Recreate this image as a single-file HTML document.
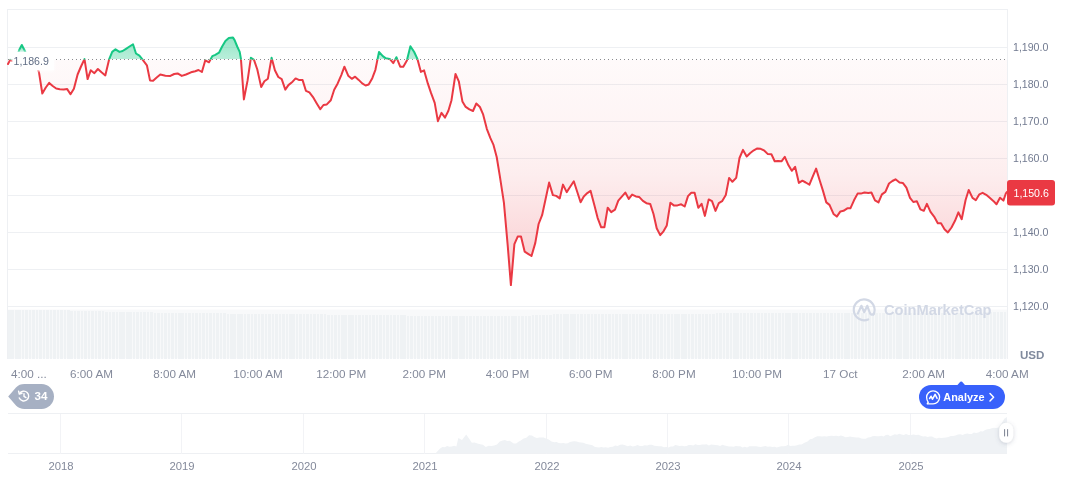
<!DOCTYPE html>
<html><head><meta charset="utf-8"><title>Chart</title>
<style>
html,body{margin:0;padding:0;background:#fff;}
body{width:1072px;height:477px;overflow:hidden;position:relative;font-family:"Liberation Sans",sans-serif;}
svg{position:absolute;left:0;top:0;}
svg text{font-family:"Liberation Sans",sans-serif;}
.g line{stroke:#eef0f3;stroke-width:1;shape-rendering:crispEdges;}
.nv line{stroke:#f2f3f6;}
.yl text{font-size:10.6px;fill:#727b91;}
.xl text{font-size:11.7px;fill:#848a9b;text-anchor:middle;}
.yr text{font-size:11.3px;fill:#848a9b;text-anchor:middle;}
</style></head><body>
<svg width="1072" height="477" viewBox="0 0 1072 477">
<defs>
<linearGradient id="rg" x1="0" y1="59.5" x2="0" y2="290" gradientUnits="userSpaceOnUse">
<stop offset="0" stop-color="#ea3943" stop-opacity="0.025"/><stop offset="0.35" stop-color="#ea3943" stop-opacity="0.06"/><stop offset="0.5" stop-color="#ea3943" stop-opacity="0.09"/><stop offset="0.75" stop-color="#ea3943" stop-opacity="0.18"/>
<stop offset="1" stop-color="#ea3943" stop-opacity="0.28"/>
</linearGradient>
<linearGradient id="gg" x1="0" y1="30" x2="0" y2="59.5" gradientUnits="userSpaceOnUse">
<stop offset="0" stop-color="#16c784" stop-opacity="0.5"/>
<stop offset="1" stop-color="#16c784" stop-opacity="0.3"/>
</linearGradient>
<clipPath id="above"><rect x="0" y="0" width="1072" height="59.5"/></clipPath>
<clipPath id="fabove"><rect x="0" y="0" width="1072" height="59"/></clipPath>
<clipPath id="fbelow"><rect x="0" y="60" width="1072" height="300"/></clipPath>
<clipPath id="below"><rect x="0" y="59.5" width="1072" height="300"/></clipPath>
<filter id="blur" x="-20%" y="-50%" width="140%" height="200%"><feGaussianBlur stdDeviation="1.6"/></filter>
<filter id="sh" x="-50%" y="-50%" width="200%" height="200%"><feDropShadow dx="0" dy="1" stdDeviation="2.2" flood-color="#586580" flood-opacity="0.28"/></filter>
</defs>
<g class="g"><line x1="8" x2="1007" y1="9.5" y2="9.5"/><line x1="8" x2="1007" y1="47.5" y2="47.5"/><line x1="8" x2="1007" y1="84.5" y2="84.5"/><line x1="8" x2="1007" y1="121.5" y2="121.5"/><line x1="8" x2="1007" y1="158.5" y2="158.5"/><line x1="8" x2="1007" y1="195.5" y2="195.5"/><line x1="8" x2="1007" y1="232.5" y2="232.5"/><line x1="8" x2="1007" y1="269.5" y2="269.5"/><line x1="8" x2="1007" y1="306.5" y2="306.5"/>
<line x1="7.5" x2="7.5" y1="9" y2="359"/><line x1="1007.5" x2="1007.5" y1="9" y2="359"/>
</g>
<g fill="#eff2f5" shape-rendering="crispEdges"><rect x="8.00" y="309.8" width="2.57" height="48.7"/><rect x="11.47" y="309.8" width="2.57" height="48.7"/><rect x="14.94" y="309.9" width="2.57" height="48.6"/><rect x="18.41" y="309.9" width="2.57" height="48.6"/><rect x="21.88" y="309.9" width="2.57" height="48.6"/><rect x="25.34" y="309.9" width="2.57" height="48.6"/><rect x="28.81" y="310.0" width="2.57" height="48.5"/><rect x="32.28" y="310.0" width="2.57" height="48.5"/><rect x="35.75" y="310.0" width="2.57" height="48.5"/><rect x="39.22" y="310.0" width="2.57" height="48.5"/><rect x="42.69" y="310.1" width="2.57" height="48.4"/><rect x="46.16" y="310.1" width="2.57" height="48.4"/><rect x="49.62" y="310.1" width="2.57" height="48.4"/><rect x="53.09" y="310.1" width="2.57" height="48.4"/><rect x="56.56" y="310.2" width="2.57" height="48.3"/><rect x="60.03" y="310.2" width="2.57" height="48.3"/><rect x="63.50" y="310.3" width="2.57" height="48.2"/><rect x="66.97" y="310.4" width="2.57" height="48.1"/><rect x="70.44" y="310.5" width="2.57" height="48.0"/><rect x="73.91" y="310.6" width="2.57" height="47.9"/><rect x="77.38" y="310.7" width="2.57" height="47.8"/><rect x="80.84" y="310.8" width="2.57" height="47.7"/><rect x="84.31" y="310.9" width="2.57" height="47.6"/><rect x="87.78" y="311.0" width="2.57" height="47.5"/><rect x="91.25" y="311.1" width="2.57" height="47.4"/><rect x="94.72" y="311.2" width="2.57" height="47.3"/><rect x="98.19" y="311.3" width="2.57" height="47.2"/><rect x="101.66" y="311.4" width="2.57" height="47.1"/><rect x="105.12" y="311.6" width="2.57" height="46.9"/><rect x="108.59" y="311.7" width="2.57" height="46.8"/><rect x="112.06" y="311.8" width="2.57" height="46.7"/><rect x="115.53" y="311.9" width="2.57" height="46.6"/><rect x="119.00" y="312.0" width="2.57" height="46.5"/><rect x="122.47" y="312.0" width="2.57" height="46.5"/><rect x="125.94" y="312.1" width="2.57" height="46.4"/><rect x="129.41" y="312.1" width="2.57" height="46.4"/><rect x="132.88" y="312.2" width="2.57" height="46.3"/><rect x="136.34" y="312.2" width="2.57" height="46.3"/><rect x="139.81" y="312.3" width="2.57" height="46.2"/><rect x="143.28" y="312.3" width="2.57" height="46.2"/><rect x="146.75" y="312.4" width="2.57" height="46.1"/><rect x="150.22" y="312.4" width="2.57" height="46.1"/><rect x="153.69" y="312.5" width="2.57" height="46.0"/><rect x="157.16" y="312.5" width="2.57" height="46.0"/><rect x="160.62" y="312.6" width="2.57" height="45.9"/><rect x="164.09" y="312.6" width="2.57" height="45.9"/><rect x="167.56" y="312.6" width="2.57" height="45.9"/><rect x="171.03" y="312.7" width="2.57" height="45.8"/><rect x="174.50" y="312.7" width="2.57" height="45.8"/><rect x="177.97" y="312.8" width="2.57" height="45.7"/><rect x="181.44" y="312.8" width="2.57" height="45.7"/><rect x="184.91" y="312.9" width="2.57" height="45.6"/><rect x="188.38" y="312.9" width="2.57" height="45.6"/><rect x="191.84" y="313.0" width="2.57" height="45.5"/><rect x="195.31" y="313.0" width="2.57" height="45.5"/><rect x="198.78" y="313.1" width="2.57" height="45.4"/><rect x="202.25" y="313.1" width="2.57" height="45.4"/><rect x="205.72" y="313.2" width="2.57" height="45.3"/><rect x="209.19" y="313.2" width="2.57" height="45.3"/><rect x="212.66" y="313.3" width="2.57" height="45.2"/><rect x="216.12" y="313.3" width="2.57" height="45.2"/><rect x="219.59" y="313.4" width="2.57" height="45.1"/><rect x="223.06" y="313.4" width="2.57" height="45.1"/><rect x="226.53" y="313.5" width="2.57" height="45.0"/><rect x="230.00" y="313.5" width="2.57" height="45.0"/><rect x="233.47" y="313.5" width="2.57" height="45.0"/><rect x="236.94" y="313.6" width="2.57" height="44.9"/><rect x="240.41" y="313.6" width="2.57" height="44.9"/><rect x="243.88" y="313.6" width="2.57" height="44.9"/><rect x="247.34" y="313.7" width="2.57" height="44.8"/><rect x="250.81" y="313.7" width="2.57" height="44.8"/><rect x="254.28" y="313.7" width="2.57" height="44.8"/><rect x="257.75" y="313.8" width="2.57" height="44.7"/><rect x="261.22" y="313.8" width="2.57" height="44.7"/><rect x="264.69" y="313.8" width="2.57" height="44.7"/><rect x="268.16" y="313.9" width="2.57" height="44.6"/><rect x="271.62" y="313.9" width="2.57" height="44.6"/><rect x="275.09" y="314.0" width="2.57" height="44.5"/><rect x="278.56" y="314.0" width="2.57" height="44.5"/><rect x="282.03" y="314.0" width="2.57" height="44.5"/><rect x="285.50" y="314.1" width="2.57" height="44.4"/><rect x="288.97" y="314.1" width="2.57" height="44.4"/><rect x="292.44" y="314.1" width="2.57" height="44.4"/><rect x="295.91" y="314.2" width="2.57" height="44.3"/><rect x="299.38" y="314.2" width="2.57" height="44.3"/><rect x="302.84" y="314.2" width="2.57" height="44.3"/><rect x="306.31" y="314.3" width="2.57" height="44.2"/><rect x="309.78" y="314.3" width="2.57" height="44.2"/><rect x="313.25" y="314.3" width="2.57" height="44.2"/><rect x="316.72" y="314.4" width="2.57" height="44.1"/><rect x="320.19" y="314.4" width="2.57" height="44.1"/><rect x="323.66" y="314.4" width="2.57" height="44.1"/><rect x="327.12" y="314.5" width="2.57" height="44.0"/><rect x="330.59" y="314.5" width="2.57" height="44.0"/><rect x="334.06" y="314.6" width="2.57" height="43.9"/><rect x="337.53" y="314.6" width="2.57" height="43.9"/><rect x="341.00" y="314.6" width="2.57" height="43.9"/><rect x="344.47" y="314.7" width="2.57" height="43.8"/><rect x="347.94" y="314.7" width="2.57" height="43.8"/><rect x="351.41" y="314.8" width="2.57" height="43.7"/><rect x="354.88" y="314.8" width="2.57" height="43.7"/><rect x="358.34" y="314.9" width="2.57" height="43.6"/><rect x="361.81" y="314.9" width="2.57" height="43.6"/><rect x="365.28" y="314.9" width="2.57" height="43.6"/><rect x="368.75" y="315.0" width="2.57" height="43.5"/><rect x="372.22" y="315.0" width="2.57" height="43.5"/><rect x="375.69" y="315.1" width="2.57" height="43.4"/><rect x="379.16" y="315.1" width="2.57" height="43.4"/><rect x="382.62" y="315.2" width="2.57" height="43.3"/><rect x="386.09" y="315.2" width="2.57" height="43.3"/><rect x="389.56" y="315.2" width="2.57" height="43.3"/><rect x="393.03" y="315.3" width="2.57" height="43.2"/><rect x="396.50" y="315.3" width="2.57" height="43.2"/><rect x="399.97" y="315.4" width="2.57" height="43.1"/><rect x="403.44" y="315.4" width="2.57" height="43.1"/><rect x="406.91" y="315.5" width="2.57" height="43.0"/><rect x="410.38" y="315.5" width="2.57" height="43.0"/><rect x="413.84" y="315.5" width="2.57" height="43.0"/><rect x="417.31" y="315.6" width="2.57" height="42.9"/><rect x="420.78" y="315.6" width="2.57" height="42.9"/><rect x="424.25" y="315.7" width="2.57" height="42.8"/><rect x="427.72" y="315.7" width="2.57" height="42.8"/><rect x="431.19" y="315.8" width="2.57" height="42.7"/><rect x="434.66" y="315.8" width="2.57" height="42.7"/><rect x="438.12" y="315.9" width="2.57" height="42.6"/><rect x="441.59" y="315.9" width="2.57" height="42.6"/><rect x="445.06" y="315.9" width="2.57" height="42.6"/><rect x="448.53" y="316.0" width="2.57" height="42.5"/><rect x="452.00" y="316.0" width="2.57" height="42.5"/><rect x="455.47" y="316.0" width="2.57" height="42.5"/><rect x="458.94" y="316.0" width="2.57" height="42.5"/><rect x="462.41" y="316.0" width="2.57" height="42.5"/><rect x="465.88" y="316.0" width="2.57" height="42.5"/><rect x="469.34" y="316.0" width="2.57" height="42.5"/><rect x="472.81" y="316.0" width="2.57" height="42.5"/><rect x="476.28" y="316.0" width="2.57" height="42.5"/><rect x="479.75" y="316.0" width="2.57" height="42.5"/><rect x="483.22" y="316.0" width="2.57" height="42.5"/><rect x="486.69" y="316.0" width="2.57" height="42.5"/><rect x="490.16" y="316.0" width="2.57" height="42.5"/><rect x="493.62" y="316.0" width="2.57" height="42.5"/><rect x="497.09" y="316.0" width="2.57" height="42.5"/><rect x="500.56" y="316.0" width="2.57" height="42.5"/><rect x="504.03" y="316.0" width="2.57" height="42.5"/><rect x="507.50" y="316.0" width="2.57" height="42.5"/><rect x="510.97" y="316.0" width="2.57" height="42.5"/><rect x="514.44" y="316.0" width="2.57" height="42.5"/><rect x="517.91" y="316.0" width="2.57" height="42.5"/><rect x="521.38" y="315.9" width="2.57" height="42.6"/><rect x="524.84" y="315.8" width="2.57" height="42.7"/><rect x="528.31" y="315.6" width="2.57" height="42.9"/><rect x="531.78" y="315.4" width="2.57" height="43.1"/><rect x="535.25" y="315.2" width="2.57" height="43.3"/><rect x="538.72" y="315.1" width="2.57" height="43.4"/><rect x="542.19" y="314.9" width="2.57" height="43.6"/><rect x="545.66" y="314.7" width="2.57" height="43.8"/><rect x="549.12" y="314.5" width="2.57" height="44.0"/><rect x="552.59" y="314.4" width="2.57" height="44.1"/><rect x="556.06" y="314.2" width="2.57" height="44.3"/><rect x="559.53" y="314.0" width="2.57" height="44.5"/><rect x="563.00" y="314.0" width="2.57" height="44.5"/><rect x="566.47" y="314.0" width="2.57" height="44.5"/><rect x="569.94" y="314.0" width="2.57" height="44.5"/><rect x="573.41" y="314.0" width="2.57" height="44.5"/><rect x="576.88" y="313.9" width="2.57" height="44.6"/><rect x="580.34" y="313.9" width="2.57" height="44.6"/><rect x="583.81" y="313.9" width="2.57" height="44.6"/><rect x="587.28" y="313.9" width="2.57" height="44.6"/><rect x="590.75" y="313.9" width="2.57" height="44.6"/><rect x="594.22" y="313.9" width="2.57" height="44.6"/><rect x="597.69" y="313.9" width="2.57" height="44.6"/><rect x="601.16" y="313.9" width="2.57" height="44.6"/><rect x="604.62" y="313.8" width="2.57" height="44.7"/><rect x="608.09" y="313.8" width="2.57" height="44.7"/><rect x="611.56" y="313.8" width="2.57" height="44.7"/><rect x="615.03" y="313.8" width="2.57" height="44.7"/><rect x="618.50" y="313.8" width="2.57" height="44.7"/><rect x="621.97" y="313.8" width="2.57" height="44.7"/><rect x="625.44" y="313.8" width="2.57" height="44.7"/><rect x="628.91" y="313.8" width="2.57" height="44.7"/><rect x="632.38" y="313.7" width="2.57" height="44.8"/><rect x="635.84" y="313.7" width="2.57" height="44.8"/><rect x="639.31" y="313.7" width="2.57" height="44.8"/><rect x="642.78" y="313.7" width="2.57" height="44.8"/><rect x="646.25" y="313.7" width="2.57" height="44.8"/><rect x="649.72" y="313.7" width="2.57" height="44.8"/><rect x="653.19" y="313.7" width="2.57" height="44.8"/><rect x="656.66" y="313.7" width="2.57" height="44.8"/><rect x="660.12" y="313.6" width="2.57" height="44.9"/><rect x="663.59" y="313.6" width="2.57" height="44.9"/><rect x="667.06" y="313.6" width="2.57" height="44.9"/><rect x="670.53" y="313.6" width="2.57" height="44.9"/><rect x="674.00" y="313.6" width="2.57" height="44.9"/><rect x="677.47" y="313.6" width="2.57" height="44.9"/><rect x="680.94" y="313.6" width="2.57" height="44.9"/><rect x="684.41" y="313.6" width="2.57" height="44.9"/><rect x="687.88" y="313.5" width="2.57" height="45.0"/><rect x="691.34" y="313.5" width="2.57" height="45.0"/><rect x="694.81" y="313.5" width="2.57" height="45.0"/><rect x="698.28" y="313.5" width="2.57" height="45.0"/><rect x="701.75" y="313.5" width="2.57" height="45.0"/><rect x="705.22" y="313.5" width="2.57" height="45.0"/><rect x="708.69" y="313.5" width="2.57" height="45.0"/><rect x="712.16" y="313.5" width="2.57" height="45.0"/><rect x="715.62" y="313.4" width="2.57" height="45.1"/><rect x="719.09" y="313.4" width="2.57" height="45.1"/><rect x="722.56" y="313.4" width="2.57" height="45.1"/><rect x="726.03" y="313.4" width="2.57" height="45.1"/><rect x="729.50" y="313.4" width="2.57" height="45.1"/><rect x="732.97" y="313.4" width="2.57" height="45.1"/><rect x="736.44" y="313.4" width="2.57" height="45.1"/><rect x="739.91" y="313.4" width="2.57" height="45.1"/><rect x="743.38" y="313.4" width="2.57" height="45.1"/><rect x="746.84" y="313.3" width="2.57" height="45.2"/><rect x="750.31" y="313.3" width="2.57" height="45.2"/><rect x="753.78" y="313.3" width="2.57" height="45.2"/><rect x="757.25" y="313.3" width="2.57" height="45.2"/><rect x="760.72" y="313.3" width="2.57" height="45.2"/><rect x="764.19" y="313.3" width="2.57" height="45.2"/><rect x="767.66" y="313.3" width="2.57" height="45.2"/><rect x="771.12" y="313.3" width="2.57" height="45.2"/><rect x="774.59" y="313.3" width="2.57" height="45.2"/><rect x="778.06" y="313.2" width="2.57" height="45.3"/><rect x="781.53" y="313.2" width="2.57" height="45.3"/><rect x="785.00" y="313.2" width="2.57" height="45.3"/><rect x="788.47" y="313.2" width="2.57" height="45.3"/><rect x="791.94" y="313.2" width="2.57" height="45.3"/><rect x="795.41" y="313.2" width="2.57" height="45.3"/><rect x="798.88" y="313.2" width="2.57" height="45.3"/><rect x="802.34" y="313.2" width="2.57" height="45.3"/><rect x="805.81" y="313.1" width="2.57" height="45.4"/><rect x="809.28" y="313.1" width="2.57" height="45.4"/><rect x="812.75" y="313.1" width="2.57" height="45.4"/><rect x="816.22" y="313.1" width="2.57" height="45.4"/><rect x="819.69" y="313.1" width="2.57" height="45.4"/><rect x="823.16" y="313.1" width="2.57" height="45.4"/><rect x="826.62" y="313.1" width="2.57" height="45.4"/><rect x="830.09" y="313.1" width="2.57" height="45.4"/><rect x="833.56" y="313.1" width="2.57" height="45.4"/><rect x="837.03" y="313.0" width="2.57" height="45.5"/><rect x="840.50" y="313.0" width="2.57" height="45.5"/><rect x="843.97" y="313.0" width="2.57" height="45.5"/><rect x="847.44" y="313.0" width="2.57" height="45.5"/><rect x="850.91" y="313.0" width="2.57" height="45.5"/><rect x="854.38" y="313.0" width="2.57" height="45.5"/><rect x="857.84" y="313.0" width="2.57" height="45.5"/><rect x="861.31" y="312.9" width="2.57" height="45.6"/><rect x="864.78" y="312.9" width="2.57" height="45.6"/><rect x="868.25" y="312.9" width="2.57" height="45.6"/><rect x="871.72" y="312.9" width="2.57" height="45.6"/><rect x="875.19" y="312.9" width="2.57" height="45.6"/><rect x="878.66" y="312.9" width="2.57" height="45.6"/><rect x="882.12" y="312.9" width="2.57" height="45.6"/><rect x="885.59" y="312.8" width="2.57" height="45.7"/><rect x="889.06" y="312.8" width="2.57" height="45.7"/><rect x="892.53" y="312.8" width="2.57" height="45.7"/><rect x="896.00" y="312.8" width="2.57" height="45.7"/><rect x="899.47" y="312.8" width="2.57" height="45.7"/><rect x="902.94" y="312.8" width="2.57" height="45.7"/><rect x="906.41" y="312.7" width="2.57" height="45.8"/><rect x="909.88" y="312.7" width="2.57" height="45.8"/><rect x="913.34" y="312.7" width="2.57" height="45.8"/><rect x="916.81" y="312.7" width="2.57" height="45.8"/><rect x="920.28" y="312.7" width="2.57" height="45.8"/><rect x="923.75" y="312.7" width="2.57" height="45.8"/><rect x="927.22" y="312.7" width="2.57" height="45.8"/><rect x="930.69" y="312.6" width="2.57" height="45.9"/><rect x="934.16" y="312.6" width="2.57" height="45.9"/><rect x="937.62" y="312.6" width="2.57" height="45.9"/><rect x="941.09" y="312.6" width="2.57" height="45.9"/><rect x="944.56" y="312.6" width="2.57" height="45.9"/><rect x="948.03" y="312.6" width="2.57" height="45.9"/><rect x="951.50" y="312.5" width="2.57" height="46.0"/><rect x="954.97" y="312.5" width="2.57" height="46.0"/><rect x="958.44" y="312.5" width="2.57" height="46.0"/><rect x="961.91" y="312.5" width="2.57" height="46.0"/><rect x="965.38" y="312.5" width="2.57" height="46.0"/><rect x="968.84" y="312.5" width="2.57" height="46.0"/><rect x="972.31" y="312.5" width="2.57" height="46.0"/><rect x="975.78" y="312.4" width="2.57" height="46.1"/><rect x="979.25" y="312.4" width="2.57" height="46.1"/><rect x="982.72" y="312.4" width="2.57" height="46.1"/><rect x="986.19" y="312.4" width="2.57" height="46.1"/><rect x="989.66" y="312.4" width="2.57" height="46.1"/><rect x="993.12" y="312.4" width="2.57" height="46.1"/><rect x="996.59" y="312.3" width="2.57" height="46.2"/><rect x="1000.06" y="312.3" width="2.57" height="46.2"/><rect x="1003.53" y="312.3" width="2.57" height="46.2"/></g>
<rect x="8" y="309.5" width="999" height="49" fill="#eff2f5" opacity="0.45"/>
<!-- watermark -->
<g id="wm" fill="none" stroke="#d2d8e5" stroke-width="2.2" stroke-linecap="round" stroke-linejoin="round">
<path d="M873.4,314.6 A10.4,10.4 0 1 0 868.2,319.4"/>
<path d="M857.8,313.6 L861.4,305.8 L864.2,312.2 L867.3,305.8 L869.8,312.8 Q871.2,316 873.8,313.8"/>
</g>
<text x="884" y="315.4" font-size="14.2" font-weight="bold" fill="#d2d8e5" textLength="107.5" lengthAdjust="spacingAndGlyphs">CoinMarketCap</text>
<!-- series -->
<path d="M8.0,64.0 L10.2,59.9 L12.5,61.0 L15.0,60.5 L17.5,55.0 L19.2,50.0 L21.8,45.0 L24.4,50.0 L27.0,56.0 L30.0,60.0 L33.0,61.5 L36.0,64.0 L39.0,72.3 L42.3,93.5 L45.8,87.5 L49.2,82.9 L52.7,86.0 L56.2,88.5 L59.8,89.2 L63.8,89.6 L67.2,89.1 L70.5,94.2 L73.9,88.8 L77.6,74.5 L81.0,66.5 L84.5,59.1 L87.6,79.1 L90.7,70.3 L94.4,73.2 L97.9,69.0 L101.5,72.3 L105.3,75.4 L109.1,59.4 L112.2,51.9 L115.5,49.3 L119.5,51.9 L122.6,51.0 L126.0,48.8 L129.5,46.5 L133.0,44.3 L136.0,53.5 L139.4,55.7 L142.4,59.4 L146.9,65.3 L150.0,80.4 L153.1,80.7 L156.7,77.5 L160.3,74.5 L165.4,75.7 L170.4,75.9 L174.2,74.0 L177.6,73.4 L181.8,75.9 L186.0,74.5 L191.0,72.3 L195.2,71.2 L198.5,70.0 L201.9,72.0 L205.3,60.3 L209.0,62.3 L212.3,56.1 L215.3,54.9 L219.0,52.7 L222.0,46.8 L225.4,41.0 L228.8,38.1 L233.0,37.6 L234.6,40.1 L237.2,46.5 L239.7,51.9 L240.9,58.6 L243.9,99.4 L247.6,80.4 L250.9,57.7 L254.0,59.9 L257.3,69.5 L261.2,87.1 L264.4,81.2 L267.9,78.7 L271.6,57.7 L274.9,70.3 L278.3,77.0 L281.7,79.1 L285.3,89.6 L288.4,85.1 L292.6,81.7 L295.6,78.4 L299.3,80.1 L302.6,80.1 L305.9,90.8 L309.4,92.4 L313.0,97.1 L316.6,103.2 L320.3,109.2 L323.5,105.0 L326.8,104.4 L330.8,100.2 L334.2,89.7 L337.7,83.4 L341.3,75.1 L344.4,66.7 L348.2,75.7 L351.8,78.8 L355.1,76.7 L358.7,79.9 L362.2,83.4 L365.6,85.5 L368.7,84.5 L372.3,78.2 L375.4,69.8 L377.1,61.4 L379.0,52.0 L382.8,56.2 L385.9,58.3 L389.7,58.9 L393.3,63.1 L396.4,57.2 L400.2,66.7 L403.3,66.7 L406.9,60.4 L410.4,46.3 L414.2,52.0 L417.4,58.9 L420.9,71.9 L424.1,70.4 L427.8,83.4 L431.0,92.9 L434.7,102.9 L437.9,121.2 L441.5,112.8 L445.0,117.6 L448.4,110.7 L451.5,100.2 L455.5,74.0 L458.8,81.3 L462.4,101.4 L465.7,106.9 L469.4,109.4 L473.0,111.0 L476.3,103.5 L479.9,107.0 L483.0,114.1 L486.8,128.8 L490.4,138.2 L493.5,144.9 L496.7,157.0 L499.8,175.9 L503.9,202.7 L507.7,245.4 L510.9,285.1 L514.4,244.2 L517.7,236.6 L521.0,236.6 L524.7,251.7 L528.1,253.9 L531.5,256.0 L535.3,242.9 L538.6,224.0 L542.1,215.2 L545.6,199.0 L549.1,182.6 L552.9,195.1 L556.2,195.9 L559.7,198.4 L563.0,184.6 L566.7,192.1 L570.2,186.7 L573.8,181.3 L577.2,191.7 L580.6,202.2 L583.8,196.4 L587.3,193.1 L590.6,190.9 L594.4,205.2 L597.6,217.8 L601.2,227.3 L604.4,227.3 L607.7,207.7 L611.2,212.2 L615.0,209.7 L618.3,200.7 L621.8,196.6 L625.3,192.6 L628.8,198.9 L632.1,194.6 L635.9,196.4 L639.1,196.9 L642.9,200.9 L646.4,203.2 L650.2,203.9 L653.5,214.0 L656.7,228.3 L660.2,235.1 L663.5,231.3 L666.8,225.4 L670.4,202.7 L674.1,205.6 L677.4,205.4 L681.2,204.3 L684.7,206.5 L688.0,196.1 L691.3,192.8 L694.6,192.8 L698.3,207.8 L701.6,203.8 L704.9,215.9 L708.7,199.4 L712.0,201.2 L715.5,210.9 L718.8,203.2 L722.1,201.2 L725.8,195.0 L729.1,177.9 L732.4,181.8 L736.2,177.9 L739.5,158.0 L743.0,149.9 L746.7,156.5 L750.0,153.2 L753.8,150.3 L757.3,148.4 L760.6,148.8 L763.9,150.3 L767.6,153.9 L771.4,154.3 L774.7,161.3 L778.0,160.9 L781.5,161.3 L784.8,156.9 L788.5,165.3 L791.8,170.8 L795.1,166.8 L798.9,182.9 L802.4,180.7 L805.7,182.5 L809.4,184.7 L812.8,176.3 L816.1,168.6 L819.5,179.8 L823.0,190.9 L826.3,202.4 L829.5,204.9 L833.5,213.9 L836.8,216.6 L840.4,211.4 L843.5,210.8 L847.3,208.3 L850.4,208.3 L854.0,200.3 L857.6,193.6 L860.9,193.6 L864.5,192.5 L868.3,193.0 L871.4,192.5 L875.0,200.3 L878.5,202.4 L881.9,194.4 L885.4,191.9 L889.0,183.5 L892.4,181.0 L895.5,179.3 L899.5,182.5 L902.8,182.9 L906.4,187.7 L910.0,197.8 L913.3,202.0 L916.9,201.3 L920.4,209.3 L923.8,210.8 L926.9,203.9 L930.5,211.8 L934.1,216.6 L937.8,223.3 L941.0,223.3 L944.5,229.2 L947.9,232.4 L951.5,227.5 L955.0,220.8 L958.4,212.4 L961.7,219.2 L965.6,200.0 L968.7,190.0 L972.5,197.9 L975.8,200.2 L979.4,194.3 L982.6,192.8 L986.2,194.8 L989.7,197.8 L993.3,200.9 L996.5,204.3 L1000.0,197.7 L1003.4,200.6 L1005.9,193.3 L1007.0,192.0 L1007,59.5 L8,59.5 Z" fill="url(#rg)" clip-path="url(#fbelow)"/>
<path d="M8.0,64.0 L10.2,59.9 L12.5,61.0 L15.0,60.5 L17.5,55.0 L19.2,50.0 L21.8,45.0 L24.4,50.0 L27.0,56.0 L30.0,60.0 L33.0,61.5 L36.0,64.0 L39.0,72.3 L42.3,93.5 L45.8,87.5 L49.2,82.9 L52.7,86.0 L56.2,88.5 L59.8,89.2 L63.8,89.6 L67.2,89.1 L70.5,94.2 L73.9,88.8 L77.6,74.5 L81.0,66.5 L84.5,59.1 L87.6,79.1 L90.7,70.3 L94.4,73.2 L97.9,69.0 L101.5,72.3 L105.3,75.4 L109.1,59.4 L112.2,51.9 L115.5,49.3 L119.5,51.9 L122.6,51.0 L126.0,48.8 L129.5,46.5 L133.0,44.3 L136.0,53.5 L139.4,55.7 L142.4,59.4 L146.9,65.3 L150.0,80.4 L153.1,80.7 L156.7,77.5 L160.3,74.5 L165.4,75.7 L170.4,75.9 L174.2,74.0 L177.6,73.4 L181.8,75.9 L186.0,74.5 L191.0,72.3 L195.2,71.2 L198.5,70.0 L201.9,72.0 L205.3,60.3 L209.0,62.3 L212.3,56.1 L215.3,54.9 L219.0,52.7 L222.0,46.8 L225.4,41.0 L228.8,38.1 L233.0,37.6 L234.6,40.1 L237.2,46.5 L239.7,51.9 L240.9,58.6 L243.9,99.4 L247.6,80.4 L250.9,57.7 L254.0,59.9 L257.3,69.5 L261.2,87.1 L264.4,81.2 L267.9,78.7 L271.6,57.7 L274.9,70.3 L278.3,77.0 L281.7,79.1 L285.3,89.6 L288.4,85.1 L292.6,81.7 L295.6,78.4 L299.3,80.1 L302.6,80.1 L305.9,90.8 L309.4,92.4 L313.0,97.1 L316.6,103.2 L320.3,109.2 L323.5,105.0 L326.8,104.4 L330.8,100.2 L334.2,89.7 L337.7,83.4 L341.3,75.1 L344.4,66.7 L348.2,75.7 L351.8,78.8 L355.1,76.7 L358.7,79.9 L362.2,83.4 L365.6,85.5 L368.7,84.5 L372.3,78.2 L375.4,69.8 L377.1,61.4 L379.0,52.0 L382.8,56.2 L385.9,58.3 L389.7,58.9 L393.3,63.1 L396.4,57.2 L400.2,66.7 L403.3,66.7 L406.9,60.4 L410.4,46.3 L414.2,52.0 L417.4,58.9 L420.9,71.9 L424.1,70.4 L427.8,83.4 L431.0,92.9 L434.7,102.9 L437.9,121.2 L441.5,112.8 L445.0,117.6 L448.4,110.7 L451.5,100.2 L455.5,74.0 L458.8,81.3 L462.4,101.4 L465.7,106.9 L469.4,109.4 L473.0,111.0 L476.3,103.5 L479.9,107.0 L483.0,114.1 L486.8,128.8 L490.4,138.2 L493.5,144.9 L496.7,157.0 L499.8,175.9 L503.9,202.7 L507.7,245.4 L510.9,285.1 L514.4,244.2 L517.7,236.6 L521.0,236.6 L524.7,251.7 L528.1,253.9 L531.5,256.0 L535.3,242.9 L538.6,224.0 L542.1,215.2 L545.6,199.0 L549.1,182.6 L552.9,195.1 L556.2,195.9 L559.7,198.4 L563.0,184.6 L566.7,192.1 L570.2,186.7 L573.8,181.3 L577.2,191.7 L580.6,202.2 L583.8,196.4 L587.3,193.1 L590.6,190.9 L594.4,205.2 L597.6,217.8 L601.2,227.3 L604.4,227.3 L607.7,207.7 L611.2,212.2 L615.0,209.7 L618.3,200.7 L621.8,196.6 L625.3,192.6 L628.8,198.9 L632.1,194.6 L635.9,196.4 L639.1,196.9 L642.9,200.9 L646.4,203.2 L650.2,203.9 L653.5,214.0 L656.7,228.3 L660.2,235.1 L663.5,231.3 L666.8,225.4 L670.4,202.7 L674.1,205.6 L677.4,205.4 L681.2,204.3 L684.7,206.5 L688.0,196.1 L691.3,192.8 L694.6,192.8 L698.3,207.8 L701.6,203.8 L704.9,215.9 L708.7,199.4 L712.0,201.2 L715.5,210.9 L718.8,203.2 L722.1,201.2 L725.8,195.0 L729.1,177.9 L732.4,181.8 L736.2,177.9 L739.5,158.0 L743.0,149.9 L746.7,156.5 L750.0,153.2 L753.8,150.3 L757.3,148.4 L760.6,148.8 L763.9,150.3 L767.6,153.9 L771.4,154.3 L774.7,161.3 L778.0,160.9 L781.5,161.3 L784.8,156.9 L788.5,165.3 L791.8,170.8 L795.1,166.8 L798.9,182.9 L802.4,180.7 L805.7,182.5 L809.4,184.7 L812.8,176.3 L816.1,168.6 L819.5,179.8 L823.0,190.9 L826.3,202.4 L829.5,204.9 L833.5,213.9 L836.8,216.6 L840.4,211.4 L843.5,210.8 L847.3,208.3 L850.4,208.3 L854.0,200.3 L857.6,193.6 L860.9,193.6 L864.5,192.5 L868.3,193.0 L871.4,192.5 L875.0,200.3 L878.5,202.4 L881.9,194.4 L885.4,191.9 L889.0,183.5 L892.4,181.0 L895.5,179.3 L899.5,182.5 L902.8,182.9 L906.4,187.7 L910.0,197.8 L913.3,202.0 L916.9,201.3 L920.4,209.3 L923.8,210.8 L926.9,203.9 L930.5,211.8 L934.1,216.6 L937.8,223.3 L941.0,223.3 L944.5,229.2 L947.9,232.4 L951.5,227.5 L955.0,220.8 L958.4,212.4 L961.7,219.2 L965.6,200.0 L968.7,190.0 L972.5,197.9 L975.8,200.2 L979.4,194.3 L982.6,192.8 L986.2,194.8 L989.7,197.8 L993.3,200.9 L996.5,204.3 L1000.0,197.7 L1003.4,200.6 L1005.9,193.3 L1007.0,192.0 L1007,59.5 L8,59.5 Z" fill="url(#gg)" clip-path="url(#fabove)"/>
<line x1="8" x2="1007" y1="59.5" y2="59.5" stroke="#8a8a8e" stroke-width="1" stroke-dasharray="1 3" shape-rendering="crispEdges"/>
<path d="M8.0,64.0 L10.2,59.9 L12.5,61.0 L15.0,60.5 L17.5,55.0 L19.2,50.0 L21.8,45.0 L24.4,50.0 L27.0,56.0 L30.0,60.0 L33.0,61.5 L36.0,64.0 L39.0,72.3 L42.3,93.5 L45.8,87.5 L49.2,82.9 L52.7,86.0 L56.2,88.5 L59.8,89.2 L63.8,89.6 L67.2,89.1 L70.5,94.2 L73.9,88.8 L77.6,74.5 L81.0,66.5 L84.5,59.1 L87.6,79.1 L90.7,70.3 L94.4,73.2 L97.9,69.0 L101.5,72.3 L105.3,75.4 L109.1,59.4 L112.2,51.9 L115.5,49.3 L119.5,51.9 L122.6,51.0 L126.0,48.8 L129.5,46.5 L133.0,44.3 L136.0,53.5 L139.4,55.7 L142.4,59.4 L146.9,65.3 L150.0,80.4 L153.1,80.7 L156.7,77.5 L160.3,74.5 L165.4,75.7 L170.4,75.9 L174.2,74.0 L177.6,73.4 L181.8,75.9 L186.0,74.5 L191.0,72.3 L195.2,71.2 L198.5,70.0 L201.9,72.0 L205.3,60.3 L209.0,62.3 L212.3,56.1 L215.3,54.9 L219.0,52.7 L222.0,46.8 L225.4,41.0 L228.8,38.1 L233.0,37.6 L234.6,40.1 L237.2,46.5 L239.7,51.9 L240.9,58.6 L243.9,99.4 L247.6,80.4 L250.9,57.7 L254.0,59.9 L257.3,69.5 L261.2,87.1 L264.4,81.2 L267.9,78.7 L271.6,57.7 L274.9,70.3 L278.3,77.0 L281.7,79.1 L285.3,89.6 L288.4,85.1 L292.6,81.7 L295.6,78.4 L299.3,80.1 L302.6,80.1 L305.9,90.8 L309.4,92.4 L313.0,97.1 L316.6,103.2 L320.3,109.2 L323.5,105.0 L326.8,104.4 L330.8,100.2 L334.2,89.7 L337.7,83.4 L341.3,75.1 L344.4,66.7 L348.2,75.7 L351.8,78.8 L355.1,76.7 L358.7,79.9 L362.2,83.4 L365.6,85.5 L368.7,84.5 L372.3,78.2 L375.4,69.8 L377.1,61.4 L379.0,52.0 L382.8,56.2 L385.9,58.3 L389.7,58.9 L393.3,63.1 L396.4,57.2 L400.2,66.7 L403.3,66.7 L406.9,60.4 L410.4,46.3 L414.2,52.0 L417.4,58.9 L420.9,71.9 L424.1,70.4 L427.8,83.4 L431.0,92.9 L434.7,102.9 L437.9,121.2 L441.5,112.8 L445.0,117.6 L448.4,110.7 L451.5,100.2 L455.5,74.0 L458.8,81.3 L462.4,101.4 L465.7,106.9 L469.4,109.4 L473.0,111.0 L476.3,103.5 L479.9,107.0 L483.0,114.1 L486.8,128.8 L490.4,138.2 L493.5,144.9 L496.7,157.0 L499.8,175.9 L503.9,202.7 L507.7,245.4 L510.9,285.1 L514.4,244.2 L517.7,236.6 L521.0,236.6 L524.7,251.7 L528.1,253.9 L531.5,256.0 L535.3,242.9 L538.6,224.0 L542.1,215.2 L545.6,199.0 L549.1,182.6 L552.9,195.1 L556.2,195.9 L559.7,198.4 L563.0,184.6 L566.7,192.1 L570.2,186.7 L573.8,181.3 L577.2,191.7 L580.6,202.2 L583.8,196.4 L587.3,193.1 L590.6,190.9 L594.4,205.2 L597.6,217.8 L601.2,227.3 L604.4,227.3 L607.7,207.7 L611.2,212.2 L615.0,209.7 L618.3,200.7 L621.8,196.6 L625.3,192.6 L628.8,198.9 L632.1,194.6 L635.9,196.4 L639.1,196.9 L642.9,200.9 L646.4,203.2 L650.2,203.9 L653.5,214.0 L656.7,228.3 L660.2,235.1 L663.5,231.3 L666.8,225.4 L670.4,202.7 L674.1,205.6 L677.4,205.4 L681.2,204.3 L684.7,206.5 L688.0,196.1 L691.3,192.8 L694.6,192.8 L698.3,207.8 L701.6,203.8 L704.9,215.9 L708.7,199.4 L712.0,201.2 L715.5,210.9 L718.8,203.2 L722.1,201.2 L725.8,195.0 L729.1,177.9 L732.4,181.8 L736.2,177.9 L739.5,158.0 L743.0,149.9 L746.7,156.5 L750.0,153.2 L753.8,150.3 L757.3,148.4 L760.6,148.8 L763.9,150.3 L767.6,153.9 L771.4,154.3 L774.7,161.3 L778.0,160.9 L781.5,161.3 L784.8,156.9 L788.5,165.3 L791.8,170.8 L795.1,166.8 L798.9,182.9 L802.4,180.7 L805.7,182.5 L809.4,184.7 L812.8,176.3 L816.1,168.6 L819.5,179.8 L823.0,190.9 L826.3,202.4 L829.5,204.9 L833.5,213.9 L836.8,216.6 L840.4,211.4 L843.5,210.8 L847.3,208.3 L850.4,208.3 L854.0,200.3 L857.6,193.6 L860.9,193.6 L864.5,192.5 L868.3,193.0 L871.4,192.5 L875.0,200.3 L878.5,202.4 L881.9,194.4 L885.4,191.9 L889.0,183.5 L892.4,181.0 L895.5,179.3 L899.5,182.5 L902.8,182.9 L906.4,187.7 L910.0,197.8 L913.3,202.0 L916.9,201.3 L920.4,209.3 L923.8,210.8 L926.9,203.9 L930.5,211.8 L934.1,216.6 L937.8,223.3 L941.0,223.3 L944.5,229.2 L947.9,232.4 L951.5,227.5 L955.0,220.8 L958.4,212.4 L961.7,219.2 L965.6,200.0 L968.7,190.0 L972.5,197.9 L975.8,200.2 L979.4,194.3 L982.6,192.8 L986.2,194.8 L989.7,197.8 L993.3,200.9 L996.5,204.3 L1000.0,197.7 L1003.4,200.6 L1005.9,193.3 L1007.0,192.0" fill="none" stroke="#ea3943" stroke-width="2" stroke-linejoin="round" stroke-linecap="round" clip-path="url(#below)"/>
<path d="M8.0,64.0 L10.2,59.9 L12.5,61.0 L15.0,60.5 L17.5,55.0 L19.2,50.0 L21.8,45.0 L24.4,50.0 L27.0,56.0 L30.0,60.0 L33.0,61.5 L36.0,64.0 L39.0,72.3 L42.3,93.5 L45.8,87.5 L49.2,82.9 L52.7,86.0 L56.2,88.5 L59.8,89.2 L63.8,89.6 L67.2,89.1 L70.5,94.2 L73.9,88.8 L77.6,74.5 L81.0,66.5 L84.5,59.1 L87.6,79.1 L90.7,70.3 L94.4,73.2 L97.9,69.0 L101.5,72.3 L105.3,75.4 L109.1,59.4 L112.2,51.9 L115.5,49.3 L119.5,51.9 L122.6,51.0 L126.0,48.8 L129.5,46.5 L133.0,44.3 L136.0,53.5 L139.4,55.7 L142.4,59.4 L146.9,65.3 L150.0,80.4 L153.1,80.7 L156.7,77.5 L160.3,74.5 L165.4,75.7 L170.4,75.9 L174.2,74.0 L177.6,73.4 L181.8,75.9 L186.0,74.5 L191.0,72.3 L195.2,71.2 L198.5,70.0 L201.9,72.0 L205.3,60.3 L209.0,62.3 L212.3,56.1 L215.3,54.9 L219.0,52.7 L222.0,46.8 L225.4,41.0 L228.8,38.1 L233.0,37.6 L234.6,40.1 L237.2,46.5 L239.7,51.9 L240.9,58.6 L243.9,99.4 L247.6,80.4 L250.9,57.7 L254.0,59.9 L257.3,69.5 L261.2,87.1 L264.4,81.2 L267.9,78.7 L271.6,57.7 L274.9,70.3 L278.3,77.0 L281.7,79.1 L285.3,89.6 L288.4,85.1 L292.6,81.7 L295.6,78.4 L299.3,80.1 L302.6,80.1 L305.9,90.8 L309.4,92.4 L313.0,97.1 L316.6,103.2 L320.3,109.2 L323.5,105.0 L326.8,104.4 L330.8,100.2 L334.2,89.7 L337.7,83.4 L341.3,75.1 L344.4,66.7 L348.2,75.7 L351.8,78.8 L355.1,76.7 L358.7,79.9 L362.2,83.4 L365.6,85.5 L368.7,84.5 L372.3,78.2 L375.4,69.8 L377.1,61.4 L379.0,52.0 L382.8,56.2 L385.9,58.3 L389.7,58.9 L393.3,63.1 L396.4,57.2 L400.2,66.7 L403.3,66.7 L406.9,60.4 L410.4,46.3 L414.2,52.0 L417.4,58.9 L420.9,71.9 L424.1,70.4 L427.8,83.4 L431.0,92.9 L434.7,102.9 L437.9,121.2 L441.5,112.8 L445.0,117.6 L448.4,110.7 L451.5,100.2 L455.5,74.0 L458.8,81.3 L462.4,101.4 L465.7,106.9 L469.4,109.4 L473.0,111.0 L476.3,103.5 L479.9,107.0 L483.0,114.1 L486.8,128.8 L490.4,138.2 L493.5,144.9 L496.7,157.0 L499.8,175.9 L503.9,202.7 L507.7,245.4 L510.9,285.1 L514.4,244.2 L517.7,236.6 L521.0,236.6 L524.7,251.7 L528.1,253.9 L531.5,256.0 L535.3,242.9 L538.6,224.0 L542.1,215.2 L545.6,199.0 L549.1,182.6 L552.9,195.1 L556.2,195.9 L559.7,198.4 L563.0,184.6 L566.7,192.1 L570.2,186.7 L573.8,181.3 L577.2,191.7 L580.6,202.2 L583.8,196.4 L587.3,193.1 L590.6,190.9 L594.4,205.2 L597.6,217.8 L601.2,227.3 L604.4,227.3 L607.7,207.7 L611.2,212.2 L615.0,209.7 L618.3,200.7 L621.8,196.6 L625.3,192.6 L628.8,198.9 L632.1,194.6 L635.9,196.4 L639.1,196.9 L642.9,200.9 L646.4,203.2 L650.2,203.9 L653.5,214.0 L656.7,228.3 L660.2,235.1 L663.5,231.3 L666.8,225.4 L670.4,202.7 L674.1,205.6 L677.4,205.4 L681.2,204.3 L684.7,206.5 L688.0,196.1 L691.3,192.8 L694.6,192.8 L698.3,207.8 L701.6,203.8 L704.9,215.9 L708.7,199.4 L712.0,201.2 L715.5,210.9 L718.8,203.2 L722.1,201.2 L725.8,195.0 L729.1,177.9 L732.4,181.8 L736.2,177.9 L739.5,158.0 L743.0,149.9 L746.7,156.5 L750.0,153.2 L753.8,150.3 L757.3,148.4 L760.6,148.8 L763.9,150.3 L767.6,153.9 L771.4,154.3 L774.7,161.3 L778.0,160.9 L781.5,161.3 L784.8,156.9 L788.5,165.3 L791.8,170.8 L795.1,166.8 L798.9,182.9 L802.4,180.7 L805.7,182.5 L809.4,184.7 L812.8,176.3 L816.1,168.6 L819.5,179.8 L823.0,190.9 L826.3,202.4 L829.5,204.9 L833.5,213.9 L836.8,216.6 L840.4,211.4 L843.5,210.8 L847.3,208.3 L850.4,208.3 L854.0,200.3 L857.6,193.6 L860.9,193.6 L864.5,192.5 L868.3,193.0 L871.4,192.5 L875.0,200.3 L878.5,202.4 L881.9,194.4 L885.4,191.9 L889.0,183.5 L892.4,181.0 L895.5,179.3 L899.5,182.5 L902.8,182.9 L906.4,187.7 L910.0,197.8 L913.3,202.0 L916.9,201.3 L920.4,209.3 L923.8,210.8 L926.9,203.9 L930.5,211.8 L934.1,216.6 L937.8,223.3 L941.0,223.3 L944.5,229.2 L947.9,232.4 L951.5,227.5 L955.0,220.8 L958.4,212.4 L961.7,219.2 L965.6,200.0 L968.7,190.0 L972.5,197.9 L975.8,200.2 L979.4,194.3 L982.6,192.8 L986.2,194.8 L989.7,197.8 L993.3,200.9 L996.5,204.3 L1000.0,197.7 L1003.4,200.6 L1005.9,193.3 L1007.0,192.0" fill="none" stroke="#16c784" stroke-width="2" stroke-linejoin="round" stroke-linecap="round" clip-path="url(#above)"/>
<!-- base label -->
<rect x="12" y="51.5" width="42" height="19.5" fill="#fff" filter="url(#blur)"/><rect x="12.5" y="52" width="41.5" height="18" fill="#fff"/>
<text x="13.5" y="65" font-size="10.6" fill="#616e85">1,186.9</text>
<g class="yl"><text x="1013" y="51.4">1,190.0</text><text x="1013" y="88.4">1,180.0</text><text x="1013" y="125.4">1,170.0</text><text x="1013" y="162.4">1,160.0</text><text x="1013" y="236.4">1,140.0</text><text x="1013" y="273.4">1,130.0</text><text x="1013" y="310.4">1,120.0</text></g>
<rect x="1007" y="180" width="48" height="25.5" rx="3" fill="#ea3943"/>
<text x="1013.5" y="196.6" font-size="10.6" fill="#fff">1,150.6</text>
<text x="1020" y="359.2" font-size="11.6" font-weight="bold" fill="#808a9d">USD</text>
<g class="xl"><text x="11" y="378.4" style="text-anchor:start">4:00 ...</text><text x="91.5" y="378.4">6:00 AM</text><text x="174.6" y="378.4">8:00 AM</text><text x="258" y="378.4">10:00 AM</text><text x="341.2" y="378.4">12:00 PM</text><text x="424.3" y="378.4">2:00 PM</text><text x="507.5" y="378.4">4:00 PM</text><text x="590.7" y="378.4">6:00 PM</text><text x="673.9" y="378.4">8:00 PM</text><text x="757" y="378.4">10:00 PM</text><text x="840.3" y="378.4">17 Oct</text><text x="923.6" y="378.4">2:00 AM</text><text x="1007.2" y="378.4">4:00 AM</text></g>
<!-- badge -->
<path d="M8.2,396.5 L16,387.4 Q19.2,384 24.5,384 L41.5,384 A12.5,12.5 0 0 1 41.5,409 L24.5,409 Q19.2,409 16,405.6 Z" fill="#a6b0c3"/>
<g fill="none" stroke="#fff" stroke-width="1.4" stroke-linecap="round" stroke-linejoin="round">
<path d="M19.6,393.5 A4.9,4.9 0 1 1 19.3,398"/>
<path d="M18.6,391.2 L19.3,394 L22,393.4"/>
<path d="M24,393.6 L24,396.4 L26,397.6"/>
</g>
<text x="34.5" y="400.2" font-size="11.6" font-weight="bold" fill="#fff">34</text>
<!-- analyze -->
<path d="M957,385.5 L960.3,381.8 Q961.2,381 962.1,381.8 L965.4,385.5 Z" fill="#3861fb"/>
<rect x="919" y="385" width="86" height="24" rx="12" fill="#3861fb"/>
<g fill="none" stroke="#fff" stroke-width="1.3" stroke-linecap="round" stroke-linejoin="round">
<path d="M928.3,402.3 L927.4,403.3 Q927,403.8 927.6,403.8 L933,403.8 A6.5,6.5 0 1 0 926.6,397.3 Q926.6,400 928.3,402.3 Z"/>
<path d="M929.6,398.5 L931.1,396.2 L932.4,399.3 L935.1,394.3 L937.1,398.4" stroke-width="1.5"/>
</g>
<text x="943.3" y="401.2" font-size="11" font-weight="bold" fill="#fff" textLength="41.2" lengthAdjust="spacingAndGlyphs">Analyze</text>
<path d="M990,393.5 L993.6,397.2 L990,400.9" fill="none" stroke="#fff" stroke-width="1.5" stroke-linecap="round" stroke-linejoin="round"/>
<!-- navigator -->
<g class="g"><line x1="8" x2="1007" y1="413.5" y2="413.5"/><line x1="8" x2="1007" y1="453.5" y2="453.5"/></g><g class="g nv"><line x1="60.5" x2="60.5" y1="413.5" y2="454"/><line x1="181.5" x2="181.5" y1="413.5" y2="454"/><line x1="303.5" x2="303.5" y1="413.5" y2="454"/><line x1="424.5" x2="424.5" y1="413.5" y2="454"/><line x1="546.5" x2="546.5" y1="413.5" y2="454"/><line x1="667.5" x2="667.5" y1="413.5" y2="454"/><line x1="788.5" x2="788.5" y1="413.5" y2="454"/><line x1="910.5" x2="910.5" y1="413.5" y2="454"/></g>
<path d="M435.4,453.5 L437.7,451.0 L440.1,448.5 L442.4,447.0 L444.7,447.2 L447.1,446.0 L449.4,446.8 L451.7,446.4 L454.1,445.7 L456.4,446.4 L458.3,438.0 L462.0,440.0 L466.2,434.4 L469.0,438.6 L471.8,442.8 L474.6,442.4 L477.4,443.6 L480.2,444.2 L483.0,444.8 L485.8,447.0 L488.6,445.8 L491.4,445.9 L494.2,445.6 L497.0,444.5 L499.8,441.5 L502.6,440.5 L504.9,440.1 L507.3,440.9 L509.6,440.8 L513.8,443.6 L516.1,443.4 L518.5,441.7 L520.8,440.5 L523.6,438.5 L526.3,437.8 L529.1,435.2 L531.9,435.4 L534.7,437.2 L536.9,438.1 L539.2,437.4 L541.4,437.4 L543.7,437.6 L545.9,438.6 L548.7,439.5 L551.5,441.6 L554.3,442.2 L556.5,441.9 L558.8,442.9 L561.0,443.3 L563.3,443.1 L565.5,443.6 L567.7,443.2 L570.0,441.9 L572.2,441.5 L574.5,441.3 L576.7,441.4 L578.9,442.3 L581.2,442.4 L583.4,442.7 L585.7,443.8 L587.9,444.2 L590.1,444.8 L592.4,445.2 L594.6,446.7 L596.9,447.2 L599.1,447.5 L601.3,446.9 L603.6,447.4 L605.8,447.2 L608.1,447.8 L610.3,447.0 L612.8,446.8 L615.2,445.5 L617.6,446.1 L620.1,444.7 L622.6,444.4 L625.1,445.2 L627.7,446.2 L630.2,445.4 L632.7,446.4 L635.1,446.1 L637.5,445.1 L639.9,446.0 L642.3,445.9 L644.7,445.3 L647.1,445.6 L649.5,444.7 L651.9,444.7 L654.3,445.7 L656.7,445.9 L659.1,446.2 L661.5,446.3 L663.9,447.3 L666.3,447.0 L668.5,447.5 L670.8,446.4 L673.0,446.5 L675.3,445.1 L677.5,445.6 L679.7,445.9 L682.0,445.7 L684.2,446.3 L686.5,445.9 L688.7,444.9 L690.9,445.0 L693.2,445.5 L695.4,444.3 L697.7,445.0 L699.9,445.0 L702.1,444.4 L704.4,444.4 L706.6,444.3 L708.9,445.6 L711.1,444.5 L713.4,444.8 L715.6,445.1 L717.9,445.3 L720.1,446.1 L722.4,444.8 L724.6,445.6 L726.9,445.9 L729.1,446.6 L731.3,446.6 L733.6,446.8 L735.8,445.9 L738.1,446.3 L740.3,446.3 L742.6,447.4 L744.8,446.8 L747.1,447.6 L749.4,446.2 L751.7,446.2 L754.0,446.3 L756.3,446.3 L758.6,446.8 L760.8,447.0 L763.1,446.4 L765.4,445.9 L767.7,446.7 L770.0,446.6 L772.3,446.9 L774.6,446.8 L776.8,447.4 L779.1,446.7 L781.3,446.2 L783.6,446.2 L785.8,446.1 L788.0,444.8 L790.3,446.1 L792.5,445.7 L794.8,445.7 L797.0,445.3 L799.3,444.4 L801.5,444.4 L804.5,442.7 L807.5,441.4 L810.0,439.3 L812.4,438.8 L814.9,437.2 L817.3,436.3 L819.6,436.3 L822.0,436.5 L824.4,436.3 L826.7,436.5 L829.1,435.9 L831.5,435.8 L833.8,436.0 L836.2,435.8 L838.6,436.2 L840.9,435.5 L843.3,436.3 L845.5,437.2 L847.8,437.0 L850.0,436.5 L852.2,436.9 L854.5,437.3 L856.7,437.6 L859.0,437.5 L861.2,438.4 L863.4,438.8 L865.7,438.8 L867.9,437.6 L870.2,437.3 L872.4,436.3 L874.6,436.1 L876.9,436.3 L879.1,436.3 L881.3,435.7 L883.6,436.5 L885.8,435.1 L888.1,434.7 L890.3,436.2 L892.5,435.2 L894.8,434.3 L897.0,434.8 L899.3,433.7 L901.5,434.4 L903.8,435.1 L906.0,434.0 L908.5,434.9 L911.0,434.9 L913.5,434.4 L915.9,434.9 L918.4,434.8 L920.9,435.7 L923.1,436.5 L925.4,436.3 L927.6,437.0 L929.8,436.4 L932.1,436.5 L934.3,437.8 L936.6,438.4 L938.8,437.8 L941.2,438.1 L943.6,437.8 L946.0,437.5 L948.4,437.1 L950.8,435.9 L953.1,436.1 L955.5,435.5 L957.9,434.6 L960.3,434.3 L962.7,434.9 L964.9,434.1 L967.2,433.6 L969.4,433.9 L971.7,433.9 L973.9,432.6 L976.1,433.0 L978.4,432.6 L980.6,431.3 L982.8,431.6 L985.1,430.1 L987.3,429.3 L989.5,428.9 L991.8,428.3 L994.0,427.8 L996.3,428.1 L998.5,427.4 L1001.5,423.6 L1004.5,418.4 L1007.0,417.0 L1007.0,453.5 Z" fill="#eff2f5"/>
<g class="yr"><text x="61.0" y="470.2">2018</text><text x="182.0" y="470.2">2019</text><text x="304.0" y="470.2">2020</text><text x="425.0" y="470.2">2021</text><text x="547.0" y="470.2">2022</text><text x="668.0" y="470.2">2023</text><text x="789.0" y="470.2">2024</text><text x="911.0" y="470.2">2025</text></g>
<rect x="999.2" y="422.8" width="14" height="20" rx="7" fill="#fff" filter="url(#sh)"/>
<line x1="1004.6" x2="1004.6" y1="429.2" y2="436.4" stroke="#7a8090" stroke-width="1"/>
<line x1="1007.6" x2="1007.6" y1="429.2" y2="436.4" stroke="#7a8090" stroke-width="1"/>
</svg>
</body></html>
